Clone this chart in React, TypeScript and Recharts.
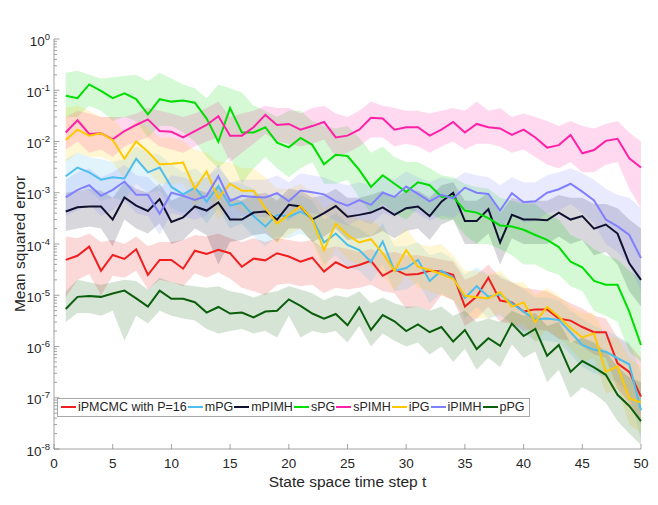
import React from 'react';
import { Area, ComposedChart, Legend, Line, XAxis, YAxis } from 'recharts';

const steps = [
  1, 2, 3, 4, 5, 6, 7, 8, 9, 10, 11, 12, 13, 14, 15, 16, 17, 18, 19, 20, 21, 22, 23, 24, 25,
  26, 27, 28, 29, 30, 31, 32, 33, 34, 35, 36, 37, 38, 39, 40, 41, 42, 43, 44, 45, 46, 47, 48, 49, 50,
];

const xTicks = [0, 5, 10, 15, 20, 25, 30, 35, 40, 45, 50];
const yDecades = [1e-8, 1e-7, 1e-6, 1e-5, 1e-4, 1e-3, 1e-2, 1e-1, 1];

// iPMCMC with P=16
const ipmcmcMse = [4.9e-5, 5.9e-5, 8.9e-5, 3.0e-5, 6.1e-5, 5.1e-5, 7.9e-5, 2.5e-5, 4.9e-5, 4.9e-5, 3.3e-5, 7.4e-5, 6.4e-5, 7.7e-5, 6.6e-5, 3.6e-5, 5.2e-5, 4.8e-5, 6.6e-5, 5.7e-5, 4.5e-5, 5.4e-5, 2.9e-5, 4.4e-5, 3.4e-5, 3.9e-5, 4.7e-5, 2.4e-5, 3.2e-5, 2.5e-5, 2.6e-5, 3.0e-5, 2.9e-5, 2.5e-5, 6.0e-6, 9.4e-6, 2.2e-5, 7.9e-6, 7.2e-6, 4.8e-6, 5.3e-6, 5.3e-6, 3.5e-6, 3.2e-6, 2.4e-6, 1.9e-6, 1.9e-6, 4.7e-7, 3.2e-7, 1.05e-7];
const ipmcmcHigh = [1.4e-4, 1.3e-4, 1.6e-4, 1.1e-4, 1.2e-4, 1.0e-4, 1.4e-4, 9.0e-5, 1.1e-4, 1.1e-4, 1.2e-4, 1.5e-4, 1.4e-4, 1.6e-4, 1.3e-4, 1.1e-4, 1.3e-4, 1.1e-4, 1.3e-4, 1.2e-4, 1.1e-4, 1.2e-4, 8.0e-5, 9.0e-5, 8.0e-5, 7.0e-5, 8.0e-5, 6.5e-5, 7.0e-5, 6.0e-5, 6.0e-5, 5.5e-5, 5.0e-5, 4.5e-5, 2.0e-5, 2.5e-5, 4.0e-5, 2.2e-5, 1.8e-5, 1.4e-5, 1.3e-5, 1.2e-5, 9.0e-6, 7.0e-6, 5.5e-6, 4.0e-6, 3.5e-6, 1.5e-6, 1.1e-6, 6.0e-7];
const ipmcmcLow = [9.0e-6, 2.0e-5, 2.6e-5, 1.0e-5, 2.4e-5, 2.2e-5, 3.0e-5, 1.3e-5, 2.0e-5, 1.8e-5, 1.5e-5, 2.7e-5, 2.2e-5, 2.8e-5, 2.1e-5, 1.4e-5, 1.2e-5, 1.0e-5, 1.6e-5, 1.7e-5, 1.5e-5, 1.6e-5, 1.1e-5, 1.4e-5, 1.3e-5, 1.4e-5, 1.6e-5, 1.2e-5, 1.1e-5, 5.5e-6, 6.0e-6, 5.0e-6, 1.0e-5, 8.0e-6, 2.5e-6, 3.5e-6, 6.0e-6, 3.0e-6, 2.8e-6, 2.0e-6, 2.2e-6, 2.0e-6, 1.4e-6, 1.3e-6, 1.0e-6, 7.0e-7, 6.0e-7, 1.5e-7, 8.0e-8, 3.0e-8];

// mPG
const mpgMse = [2.1e-3, 3.1e-3, 2.5e-3, 1.8e-3, 2.0e-3, 1.9e-3, 4.6e-3, 2.5e-3, 3.1e-3, 1.3e-3, 9.3e-4, 1.26e-3, 6.7e-4, 1.35e-3, 5.6e-4, 6.4e-4, 3.5e-4, 2.2e-4, 3.7e-4, 3.4e-4, 4.3e-4, 3.2e-4, 1.07e-4, 1.6e-4, 9.6e-5, 7.6e-5, 4.5e-5, 1.12e-4, 3.0e-5, 3.4e-5, 4.9e-5, 1.9e-5, 3.0e-5, 2.2e-5, 8.9e-6, 1.5e-5, 9.4e-6, 1.04e-5, 7.0e-6, 4.8e-6, 3.4e-6, 3.5e-6, 3.3e-6, 1.9e-6, 1.07e-6, 8.6e-7, 7.9e-7, 5.9e-7, 4.5e-7, 5.7e-8];
const mpgHigh = [4.5e-3, 6.0e-3, 5.0e-3, 4.5e-3, 4.0e-3, 4.5e-3, 8.0e-3, 6.0e-3, 5.5e-3, 3.5e-3, 2.5e-3, 3.0e-3, 2.0e-3, 3.0e-3, 1.6e-3, 1.5e-3, 1.2e-3, 7.0e-4, 9.0e-4, 8.0e-4, 9.0e-4, 7.0e-4, 3.0e-4, 4.0e-4, 2.5e-4, 2.0e-4, 1.4e-4, 2.5e-4, 9.0e-5, 9.0e-5, 1.1e-4, 6.0e-5, 7.0e-5, 5.0e-5, 2.5e-5, 3.5e-5, 2.5e-5, 2.5e-5, 1.8e-5, 1.3e-5, 9.0e-6, 9.0e-6, 8.0e-6, 5.0e-6, 3.5e-6, 2.5e-6, 2.0e-6, 1.6e-6, 1.2e-6, 3.0e-7];
const mpgLow = [8.0e-4, 1.3e-3, 1.1e-3, 7.0e-4, 8.0e-4, 7.0e-4, 1.5e-3, 1.0e-3, 1.1e-3, 5.0e-4, 4.0e-4, 5.0e-4, 2.5e-4, 5.0e-4, 2.0e-4, 2.5e-4, 1.4e-4, 9.0e-5, 1.4e-4, 1.3e-4, 1.6e-4, 1.2e-4, 4.0e-5, 6.0e-5, 3.5e-5, 3.0e-5, 1.8e-5, 4.0e-5, 1.2e-5, 1.3e-5, 1.8e-5, 7.0e-6, 1.1e-5, 8.0e-6, 3.5e-6, 6.0e-6, 3.5e-6, 4.0e-6, 2.8e-6, 1.8e-6, 1.3e-6, 1.3e-6, 1.2e-6, 7.0e-7, 4.0e-7, 3.0e-7, 2.5e-7, 2.0e-7, 1.2e-7, 1.5e-8];

// mPIMH
const mpimhMse = [4.3e-4, 5.2e-4, 5.4e-4, 5.4e-4, 3.0e-4, 8.1e-4, 5.6e-4, 4.4e-4, 7.5e-4, 2.7e-4, 3.3e-4, 5.4e-4, 4.5e-4, 6.5e-4, 3.0e-4, 3.0e-4, 4.1e-4, 4.3e-4, 3.0e-4, 5.8e-4, 5.4e-4, 3.0e-4, 4.0e-4, 5.5e-4, 3.4e-4, 3.7e-4, 4.1e-4, 5.2e-4, 3.7e-4, 5.0e-4, 5.4e-4, 3.5e-4, 6.7e-4, 1.0e-3, 2.8e-4, 2.8e-4, 4.8e-4, 1.07e-4, 3.7e-4, 3.0e-4, 3.0e-4, 2.9e-4, 4.1e-4, 3.0e-4, 3.5e-4, 2.0e-4, 2.4e-4, 1.6e-4, 4.2e-5, 2.0e-5];
const mpimhHigh = [1.0e-3, 1.1e-3, 1.2e-3, 1.1e-3, 8.0e-4, 1.6e-3, 1.2e-3, 1.0e-3, 1.5e-3, 7.0e-4, 9.0e-4, 1.2e-3, 1.0e-3, 1.3e-3, 8.0e-4, 7.0e-4, 9.0e-4, 1.0e-3, 7.0e-4, 1.2e-3, 1.1e-3, 8.0e-4, 9.0e-4, 1.2e-3, 8.0e-4, 8.0e-4, 9.0e-4, 1.1e-3, 8.0e-4, 1.1e-3, 1.1e-3, 8.0e-4, 1.4e-3, 1.6e-3, 7.0e-4, 7.0e-4, 1.0e-3, 4.0e-4, 8.0e-4, 7.0e-4, 7.0e-4, 7.0e-4, 9.0e-4, 8.0e-4, 8.0e-4, 6.0e-4, 6.0e-4, 5.0e-4, 3.0e-4, 2.0e-4];
const mpimhLow = [1.8e-4, 2.0e-4, 2.2e-4, 2.0e-4, 9.0e-5, 3.0e-4, 2.0e-4, 1.6e-4, 2.5e-4, 1.0e-4, 1.2e-4, 2.0e-4, 1.5e-4, 4.0e-5, 1.1e-4, 1.2e-4, 1.5e-4, 1.6e-4, 1.1e-4, 2.0e-4, 2.0e-4, 1.1e-4, 1.4e-4, 2.0e-4, 1.2e-4, 1.3e-4, 1.4e-4, 1.8e-4, 1.3e-4, 1.8e-4, 2.0e-4, 1.2e-4, 2.4e-4, 3.0e-4, 1.0e-4, 1.0e-4, 1.6e-4, 4.0e-5, 1.3e-4, 1.0e-4, 1.0e-4, 1.0e-4, 1.4e-4, 1.0e-4, 1.2e-4, 6.0e-5, 7.0e-5, 4.0e-5, 1.2e-5, 6.0e-6];

// sPG
const spgMse = [7.8e-2, 7.0e-2, 0.13, 9.7e-2, 7.0e-2, 8.7e-2, 6.7e-2, 3.4e-2, 6.7e-2, 6.0e-2, 6.3e-2, 5.7e-2, 2.8e-2, 9.9e-3, 4.5e-2, 1.5e-2, 1.5e-2, 1.9e-2, 9.5e-3, 7.7e-3, 1.17e-2, 8.6e-3, 3.6e-3, 5.5e-3, 5.2e-3, 2.8e-3, 1.3e-3, 2.2e-3, 1.5e-3, 1.04e-3, 1.6e-3, 1.4e-3, 8.4e-4, 8.4e-4, 4.5e-4, 4.1e-4, 3.2e-4, 2.3e-4, 2.2e-4, 1.9e-4, 1.5e-4, 1.2e-4, 8.7e-5, 4.5e-5, 3.5e-5, 1.9e-5, 1.6e-5, 1.6e-5, 4.8e-6, 1.07e-6];
const spgHigh = [0.22, 0.24, 0.2, 0.17, 0.18, 0.19, 0.2, 0.15, 0.22, 0.17, 0.13, 0.11, 7.0e-2, 0.13, 0.11, 9.0e-2, 5.0e-2, 4.0e-2, 3.0e-2, 4.0e-2, 4.0e-2, 2.5e-2, 2.0e-2, 1.8e-2, 2.0e-2, 1.2e-2, 6.0e-3, 8.0e-3, 5.0e-3, 4.0e-3, 4.0e-3, 3.0e-3, 2.2e-3, 2.0e-3, 1.5e-3, 1.3e-3, 1.2e-3, 8.0e-4, 7.0e-4, 6.0e-4, 6.0e-4, 4.0e-4, 3.0e-4, 1.5e-4, 1.2e-4, 8.0e-5, 6.0e-5, 5.0e-5, 3.0e-5, 2.0e-5];
const spgLow = [3.0e-2, 3.0e-2, 5.0e-2, 4.0e-2, 2.5e-2, 3.0e-2, 2.5e-2, 1.2e-2, 2.0e-2, 2.0e-2, 1.5e-2, 1.0e-2, 5.0e-3, 3.0e-3, 5.0e-3, 1.5e-3, 3.0e-3, 5.0e-3, 3.0e-3, 2.0e-3, 3.0e-3, 4.0e-3, 1.5e-3, 1.5e-3, 1.8e-3, 8.0e-4, 4.0e-4, 6.0e-4, 4.0e-4, 3.0e-4, 5.0e-4, 4.0e-4, 3.0e-4, 3.0e-4, 1.5e-4, 1.0e-4, 1.0e-4, 8.0e-5, 6.0e-5, 4.0e-5, 4.0e-5, 3.0e-5, 2.5e-5, 1.5e-5, 1.2e-5, 5.0e-6, 4.0e-6, 3.0e-6, 8.0e-7, 5.0e-7];

// sPIMH
const spimhMse = [1.5e-2, 2.6e-2, 1.4e-2, 1.45e-2, 1.1e-2, 1.6e-2, 2.1e-2, 2.7e-2, 1.6e-2, 1.55e-2, 1.2e-2, 1.6e-2, 2.1e-2, 3.1e-2, 1.3e-2, 1.3e-2, 1.9e-2, 3.3e-2, 2.1e-2, 2.2e-2, 1.7e-2, 2.0e-2, 2.4e-2, 1.2e-2, 1.3e-2, 1.7e-2, 2.9e-2, 2.8e-2, 1.7e-2, 1.9e-2, 1.9e-2, 1.3e-2, 1.7e-2, 2.4e-2, 1.5e-2, 2.2e-2, 1.9e-2, 1.8e-2, 1.35e-2, 1.7e-2, 1.2e-2, 7.6e-3, 8.5e-3, 1.34e-2, 5.9e-3, 6.8e-3, 1.03e-2, 1.13e-2, 4.7e-3, 3.1e-3];
const spimhHigh = [3.0e-2, 4.0e-2, 3.5e-2, 3.0e-2, 3.0e-2, 3.0e-2, 3.5e-2, 4.5e-2, 4.0e-2, 3.5e-2, 3.0e-2, 3.5e-2, 4.5e-2, 6.0e-2, 3.0e-2, 3.5e-2, 4.0e-2, 5.0e-2, 4.5e-2, 4.5e-2, 3.5e-2, 4.5e-2, 5.0e-2, 3.5e-2, 3.0e-2, 4.0e-2, 6.0e-2, 5.0e-2, 4.5e-2, 4.0e-2, 4.0e-2, 3.5e-2, 4.0e-2, 4.5e-2, 4.0e-2, 6.0e-2, 4.0e-2, 4.5e-2, 3.0e-2, 3.5e-2, 3.0e-2, 2.5e-2, 2.0e-2, 2.5e-2, 2.0e-2, 1.8e-2, 2.2e-2, 2.5e-2, 1.5e-2, 1.0e-2];
const spimhLow = [7.0e-3, 1.0e-2, 6.0e-3, 7.0e-3, 5.0e-3, 8.0e-3, 1.0e-2, 1.2e-2, 8.0e-3, 7.0e-3, 6.0e-3, 8.0e-3, 1.0e-2, 1.2e-2, 4.0e-3, 6.0e-3, 9.0e-3, 1.4e-2, 1.0e-2, 9.0e-3, 8.0e-3, 9.0e-3, 1.1e-2, 5.0e-3, 6.0e-3, 8.0e-3, 1.2e-2, 1.2e-2, 8.0e-3, 9.0e-3, 8.0e-3, 6.0e-3, 8.0e-3, 1.0e-2, 7.0e-3, 9.0e-3, 9.0e-3, 8.0e-3, 6.0e-3, 7.0e-3, 5.0e-3, 3.5e-3, 3.0e-3, 4.0e-3, 2.5e-3, 2.5e-3, 3.5e-3, 4.0e-3, 1.2e-3, 5.0e-4];

// iPG
const ipgMse = [1.07e-2, 1.7e-2, 1.3e-2, 1.45e-2, 1.07e-2, 4.6e-3, 1.0e-2, 6.3e-3, 3.6e-3, 3.7e-3, 3.9e-3, 1.2e-3, 2.6e-3, 7.8e-4, 1.5e-3, 1.1e-3, 1.1e-3, 5.0e-4, 2.5e-4, 3.7e-4, 5.5e-4, 3.0e-4, 7.6e-5, 2.5e-4, 1.5e-4, 1.07e-4, 1.24e-4, 6.6e-5, 3.0e-5, 7.6e-5, 3.6e-5, 3.1e-5, 2.6e-5, 2.1e-5, 9.8e-6, 9.1e-6, 8.7e-6, 1.15e-5, 6.0e-6, 7.2e-6, 3.0e-6, 5.9e-6, 3.8e-6, 2.3e-6, 1.5e-6, 1.8e-6, 3.2e-7, 4.1e-7, 9.8e-8, 8.1e-8];
const ipgHigh = [4.5e-2, 5.0e-2, 4.0e-2, 3.0e-2, 3.0e-2, 1.5e-2, 2.5e-2, 1.8e-2, 1.2e-2, 1.2e-2, 1.0e-2, 7.0e-3, 6.0e-3, 4.0e-3, 4.0e-3, 3.0e-3, 3.0e-3, 2.0e-3, 1.2e-3, 1.2e-3, 1.5e-3, 1.0e-3, 5.0e-4, 7.0e-4, 4.0e-4, 3.0e-4, 3.0e-4, 2.0e-4, 1.2e-4, 2.0e-4, 1.0e-4, 9.0e-5, 1.0e-4, 6.0e-5, 3.0e-5, 3.0e-5, 2.5e-5, 3.0e-5, 1.8e-5, 1.8e-5, 1.0e-5, 1.4e-5, 1.0e-5, 6.0e-6, 4.5e-6, 4.5e-6, 1.5e-6, 1.5e-6, 6.0e-7, 4.0e-7];
const ipgLow = [4.0e-3, 6.0e-3, 5.0e-3, 5.0e-3, 4.0e-3, 1.8e-3, 4.0e-3, 2.5e-3, 1.5e-3, 1.5e-3, 1.5e-3, 5.0e-4, 1.0e-3, 3.0e-4, 6.0e-4, 4.0e-4, 4.0e-4, 2.0e-4, 1.0e-4, 1.5e-4, 2.0e-4, 1.1e-4, 3.0e-5, 9.0e-5, 5.0e-5, 4.0e-5, 4.0e-5, 2.5e-5, 1.2e-5, 2.5e-5, 1.4e-5, 1.2e-5, 1.0e-5, 8.0e-6, 4.0e-6, 3.5e-6, 3.5e-6, 4.5e-6, 2.5e-6, 2.8e-6, 1.2e-6, 2.2e-6, 1.5e-6, 9.0e-7, 5.0e-7, 6.0e-7, 1.2e-7, 1.5e-7, 3.0e-8, 2.0e-8];

// iPIMH
const ipimhMse = [8.1e-4, 1.14e-3, 1.4e-3, 8.7e-4, 1.14e-3, 1.66e-3, 9.1e-4, 9.1e-4, 3.9e-4, 1.0e-3, 8.7e-4, 7.2e-4, 8.7e-4, 2.1e-3, 6.9e-4, 8.7e-4, 8.3e-4, 8.1e-4, 9.8e-4, 6.8e-4, 1.1e-3, 1.02e-3, 9.3e-4, 6.8e-4, 5.6e-4, 7.2e-4, 5.8e-4, 1.0e-3, 8.3e-4, 1.32e-3, 9.5e-4, 6.8e-4, 9.1e-4, 7.8e-4, 1.26e-3, 1.0e-3, 9.5e-4, 4.5e-4, 9.8e-4, 6.5e-4, 6.8e-4, 1.0e-3, 1.17e-3, 1.5e-3, 1.05e-3, 7.1e-4, 3.0e-4, 2.2e-4, 1.5e-4, 5.3e-5];
const ipimhHigh = [1.8e-3, 2.5e-3, 3.0e-3, 2.0e-3, 2.5e-3, 3.5e-3, 2.2e-3, 2.0e-3, 1.2e-3, 2.2e-3, 2.0e-3, 1.6e-3, 2.0e-3, 3.5e-3, 1.6e-3, 1.8e-3, 1.8e-3, 1.8e-3, 2.2e-3, 1.6e-3, 2.4e-3, 2.2e-3, 2.0e-3, 1.6e-3, 1.4e-3, 1.6e-3, 1.4e-3, 2.2e-3, 1.8e-3, 2.6e-3, 2.0e-3, 1.6e-3, 2.0e-3, 1.8e-3, 2.5e-3, 2.2e-3, 2.0e-3, 1.4e-3, 2.0e-3, 1.6e-3, 1.6e-3, 2.2e-3, 2.5e-3, 3.0e-3, 2.4e-3, 1.8e-3, 1.2e-3, 9.0e-4, 8.0e-4, 5.0e-4];
const ipimhLow = [3.5e-4, 4.5e-4, 6.0e-4, 3.5e-4, 4.5e-4, 7.0e-4, 4.0e-4, 3.5e-4, 1.5e-4, 4.0e-4, 3.5e-4, 3.0e-4, 3.5e-4, 8.0e-4, 2.8e-4, 3.5e-4, 3.5e-4, 3.3e-4, 4.0e-4, 2.8e-4, 4.5e-4, 4.0e-4, 3.8e-4, 2.8e-4, 2.3e-4, 3.0e-4, 2.4e-4, 4.0e-4, 3.4e-4, 5.0e-4, 4.0e-4, 2.8e-4, 3.6e-4, 3.2e-4, 5.0e-4, 4.0e-4, 4.0e-4, 1.8e-4, 4.0e-4, 2.6e-4, 2.8e-4, 4.0e-4, 4.5e-4, 6.0e-4, 4.0e-4, 2.5e-4, 1.0e-4, 7.0e-5, 4.0e-5, 1.2e-5];

// pPG
const ppgMse = [5.4e-6, 9.3e-6, 9.7e-6, 9.3e-6, 1.08e-5, 1.23e-5, 8.7e-6, 6.0e-6, 1.23e-5, 8.5e-6, 8.5e-6, 7.3e-6, 4.6e-6, 5.9e-6, 4.4e-6, 4.6e-6, 3.7e-6, 4.8e-6, 5.0e-6, 8.3e-6, 6.2e-6, 4.4e-6, 3.5e-6, 4.3e-6, 2.6e-6, 5.8e-6, 2.1e-6, 4.1e-6, 3.1e-6, 2.0e-6, 2.7e-6, 1.9e-6, 2.4e-6, 1.25e-6, 2.1e-6, 8.9e-7, 1.45e-6, 1.03e-6, 2.8e-6, 1.6e-6, 2.2e-6, 6.6e-7, 1.07e-6, 3.2e-7, 5.2e-7, 3.9e-7, 2.8e-7, 1.14e-7, 6.9e-8, 3.5e-8];
const ppgHigh = [1.2e-5, 2.0e-5, 1.8e-5, 1.6e-5, 1.8e-5, 2.0e-5, 1.9e-5, 1.3e-5, 2.2e-5, 1.8e-5, 1.6e-5, 1.5e-5, 1.4e-5, 1.5e-5, 1.2e-5, 1.1e-5, 9.0e-6, 1.1e-5, 1.2e-5, 1.5e-5, 1.3e-5, 1.1e-5, 8.0e-6, 1.0e-5, 9.0e-6, 1.2e-5, 7.0e-6, 9.0e-6, 7.0e-6, 6.0e-6, 6.0e-6, 5.0e-6, 6.0e-6, 4.0e-6, 5.0e-6, 3.0e-6, 3.5e-6, 3.0e-6, 5.0e-6, 4.0e-6, 4.5e-6, 2.5e-6, 3.0e-6, 1.2e-6, 1.5e-6, 1.2e-6, 8.0e-7, 4.0e-7, 2.5e-7, 2.0e-7];
const ppgLow = [3.0e-6, 4.5e-6, 4.5e-6, 4.0e-6, 5.0e-6, 1.3e-6, 4.0e-6, 2.8e-6, 5.0e-6, 4.0e-6, 3.5e-6, 3.2e-6, 2.2e-6, 1.8e-6, 2.0e-6, 2.2e-6, 1.8e-6, 2.0e-6, 1.5e-6, 4.0e-6, 1.5e-6, 2.0e-6, 1.8e-6, 2.0e-6, 1.2e-6, 2.5e-6, 1.0e-6, 1.8e-6, 1.3e-6, 1.0e-6, 1.2e-6, 7.0e-7, 1.0e-6, 5.0e-7, 9.0e-7, 3.5e-7, 6.0e-7, 4.0e-7, 1.1e-6, 6.0e-7, 8.0e-7, 2.0e-7, 3.5e-7, 1.0e-7, 1.6e-7, 1.2e-7, 8.0e-8, 3.5e-8, 2.0e-8, 1.2e-8];

const series = [
  { key: 'ipmcmc', name: 'iPMCMC with P=16', color: '#f01e1e', mse: ipmcmcMse, low: ipmcmcLow, high: ipmcmcHigh },
  { key: 'mpg', name: 'mPG', color: '#4dbeee', mse: mpgMse, low: mpgLow, high: mpgHigh },
  { key: 'mpimh', name: 'mPIMH', color: '#101030', mse: mpimhMse, low: mpimhLow, high: mpimhHigh },
  { key: 'spg', name: 'sPG', color: '#00dd00', mse: spgMse, low: spgLow, high: spgHigh },
  { key: 'spimh', name: 'sPIMH', color: '#ff20a8', mse: spimhMse, low: spimhLow, high: spimhHigh },
  { key: 'ipg', name: 'iPG', color: '#ffc800', mse: ipgMse, low: ipgLow, high: ipgHigh },
  { key: 'ipimh', name: 'iPIMH', color: '#8080ff', mse: ipimhMse, low: ipimhLow, high: ipimhHigh },
  { key: 'ppg', name: 'pPG', color: '#0b5e0b', mse: ppgMse, low: ppgLow, high: ppgHigh },
];

const chartData = steps.map((t, i) => {
  const row: Record<string, number | number[]> = { t };
  series.forEach((s) => {
    row[s.key] = s.mse[i];
    row[`${s.key}Band`] = [s.low[i], s.high[i]];
  });
  return row;
});

// decades plus the 2..9 minor marks between them
const yTicks = yDecades.flatMap((d) =>
  d === 1 ? [d] : [1, 2, 3, 4, 5, 6, 7, 8, 9].map((m) => m * d)
);

const FONT = '"Liberation Sans", Arial, Helvetica, sans-serif';
const AXIS = '#8c8c8c';
const TEXT = '#262626';

const isDecade = (v: number) => Math.abs(Math.log10(v) - Math.round(Math.log10(v))) < 1e-6;

const YTick = (props: any) => {
  const { x, y, payload } = props;
  const major = isDecade(payload.value);
  const exp = Math.round(Math.log10(payload.value));
  return (
    <g>
      <line x1={x} x2={x + (major ? 5.5 : 3)} y1={y} y2={y} stroke={AXIS} strokeWidth={0.8} />
      {major && (
        <text x={x - 4} y={y + 6.5} textAnchor="end" fontFamily={FONT} fontSize={13.5} fill={TEXT}>
          <tspan>10</tspan>
          <tspan dy={-6} fontSize={9.5}>{exp}</tspan>
        </text>
      )}
    </g>
  );
};

const XTick = (props: any) => {
  const { x, y, payload } = props;
  return (
    <g>
      <line x1={x} x2={x} y1={y} y2={y - 5} stroke={AXIS} strokeWidth={0.8} />
      <text x={x} y={y + 19} textAnchor="middle" fontFamily={FONT} fontSize={13.5} fill={TEXT}>
        {payload.value}
      </text>
    </g>
  );
};

// legend keeps the plotting order of the series
const renderLegend = () => (
  <div
    style={{
      display: 'inline-flex',
      alignItems: 'center',
      height: 17,
      padding: '0 3px',
      border: '1px solid #a8a8a8',
      background: '#fff',
      fontFamily: FONT,
      fontSize: 12.5,
      color: TEXT,
      whiteSpace: 'nowrap',
    }}
  >
    {series.map((s) => (
      <span key={s.key} style={{ display: 'inline-flex', alignItems: 'center', marginRight: 1 }}>
        <span style={{ display: 'inline-block', width: 15, height: 2, background: s.color, marginRight: 2 }} />
        <span>{s.name}</span>
      </span>
    ))}
  </div>
);

export default function App() {
  return (
    <div style={{ position: 'absolute', left: 0, top: 0, width: 658, height: 505, background: '#fff' }}>
      <ComposedChart width={658} height={505} data={chartData} margin={{ top: 39, right: 17, bottom: 18, left: 4 }}>
        <XAxis
          type="number"
          dataKey="t"
          domain={[0, 50]}
          ticks={xTicks}
          interval={0}
          height={38}
          tickSize={0}
          tickMargin={0}
          tickLine={false}
          axisLine={{ stroke: AXIS, strokeWidth: 0.8 }}
          tick={<XTick />}
          label={{
            value: 'State space time step t',
            position: 'insideBottom',
            offset: 0,
            style: { fontFamily: FONT, fontSize: 15.5, fill: TEXT },
          }}
        />
        <YAxis
          scale="log"
          domain={[1e-8, 1]}
          allowDataOverflow
          ticks={yTicks}
          interval={0}
          width={50}
          tickSize={0}
          tickMargin={0}
          tickLine={false}
          axisLine={{ stroke: AXIS, strokeWidth: 0.8 }}
          tick={<YTick />}
          label={{
            value: 'Mean squared error',
            position: 'insideLeft',
            angle: -90,
            offset: 15.5,
            style: { textAnchor: 'middle', fontFamily: FONT, fontSize: 15.5, fill: TEXT },
          }}
        />
        {series.flatMap((s) => [
          <Area
            key={`${s.key}-band`}
            type="linear"
            dataKey={`${s.key}Band`}
            stroke="none"
            fill={s.color}
            fillOpacity={0.17}
            legendType="none"
            dot={false}
            activeDot={false}
            isAnimationActive={false}
          />,
          <Line
            key={`${s.key}-line`}
            type="linear"
            dataKey={s.key}
            name={s.name}
            stroke={s.color}
            strokeWidth={2}
            dot={false}
            activeDot={false}
            isAnimationActive={false}
          />,
        ])}
        <Legend
          layout="horizontal"
          verticalAlign="middle"
          content={renderLegend}
          wrapperStyle={{ left: 57, top: 394, width: 'auto', height: 19 }}
        />
      </ComposedChart>
    </div>
  );
}
